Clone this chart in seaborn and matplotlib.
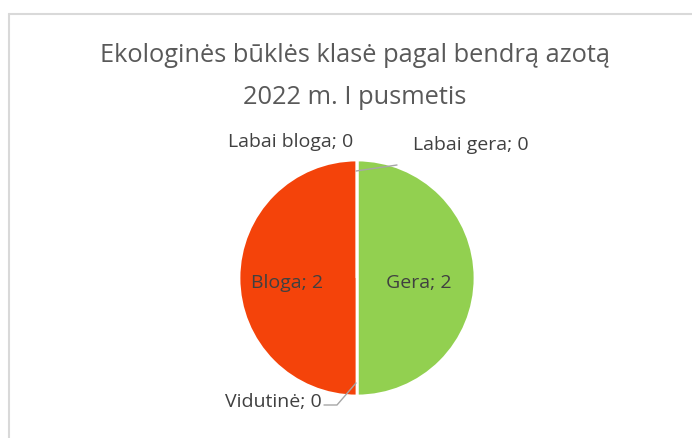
import matplotlib
matplotlib.use("Agg")
import matplotlib.pyplot as plt
import seaborn as sns
import numpy as np
from matplotlib.lines import Line2D

sns.set_theme(style="white")
plt.rcParams['font.family'] = ['Open Sans', 'DejaVu Sans']

title_lines = ["Ekologinės būklės klasė pagal bendrą azotą", "2022 m. I pusmetis"]
categories = ["Labai gera", "Gera", "Vidutinė", "Bloga", "Labai bloga"]
values = [0, 2, 0, 2, 0]
colors = ["#0070C0", "#92D050", "#FFFF00", "#F4430A", "#C00000"]

W, H = 692, 438
fig = plt.figure(figsize=(W / 100, H / 100), dpi=100)
ax = fig.add_axes([0, 0, 1, 1])

txt = "#595959"
lab = "#404040"

cx, cy, r = 357, H - 278, 118
wedges, _ = ax.pie(values, colors=colors, startangle=90, counterclock=False,
                   center=(cx, cy), radius=r,
                   wedgeprops=dict(edgecolor="white", linewidth=2))
ax.set_xlim(0, W)
ax.set_ylim(0, H)
ax.set_aspect("equal")
ax.axis("off")

# chart border
ax.add_line(Line2D([8.5, 8.5], [0, H - 14], color="#D9D9D9", lw=1.5))
ax.add_line(Line2D([8.5, W], [H - 14, H - 14], color="#D9D9D9", lw=1.5))

ax.text(355, H - 62, title_lines[0], ha="center", va="baseline", fontsize=18.3, color=txt)
ax.text(355, H - 104, title_lines[1], ha="center", va="baseline", fontsize=18.3, color=txt)

fs = 14
labels = [f"{c}; {v}" for c, v in zip(categories, values)]
ax.text(471, H - 150, labels[0], ha="center", va="baseline", fontsize=fs, color=lab)
ax.text(419, H - 288, labels[1], ha="center", va="baseline", fontsize=fs, color=lab)
ax.text(322, H - 407, labels[2], ha="right", va="baseline", fontsize=fs, color=lab)
ax.text(287, H - 288, labels[3], ha="center", va="baseline", fontsize=fs, color=lab)
ax.text(291, H - 147, labels[4], ha="center", va="baseline", fontsize=fs, color=lab)

# leader lines
ax.add_line(Line2D([356, 397], [H - 171, H - 165], color="#A6A6A6", lw=1))
ax.add_line(Line2D([356, 337, 324], [H - 383, H - 405, H - 405], color="#A6A6A6", lw=1))

fig.savefig("out.png", dpi=100, facecolor="white")
